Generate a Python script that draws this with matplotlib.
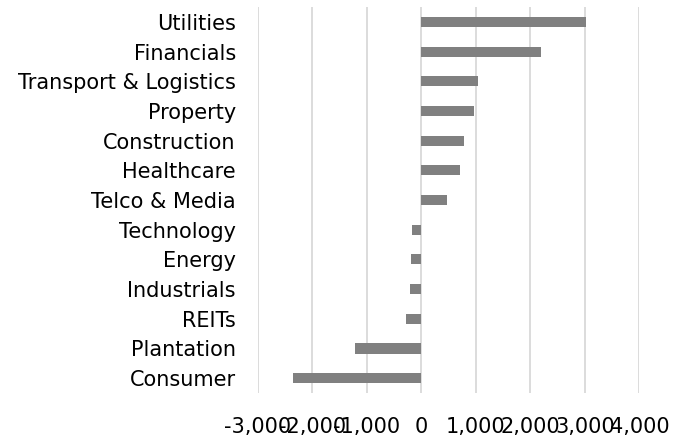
import numpy as np
import matplotlib
matplotlib.use('Agg')
import matplotlib.pyplot as plt

sectors = ['Utilities', 'Financials', 'Transport & Logistics', 'Property',
           'Construction', 'Healthcare', 'Telco & Media', 'Technology',
           'Energy', 'Industrials', 'REITs', 'Plantation', 'Consumer']
values = [3010, 2200, 1040, 955, 785, 705, 466, -165, -190, -208, -275, -1219, -2353]

x_ticks = [-3000, -2000, -1000, 0, 1000, 2000, 3000, 4000]

plt.rcParams['font.family'] = ['DejaVu Sans']

fig = plt.figure(figsize=(6.8, 4.41), dpi=100)
ax = fig.add_axes([0.3794, 0.1088, 0.9404 - 0.3794, 0.984 - 0.1088])

pos = np.arange(len(sectors))
ax.barh(pos, values, height=0.34, color='#808080', zorder=3)

ax.set_ylim(len(sectors) - 0.5, -0.5)
ax.set_xlim(-3000, 4000)
ax.set_xticks(x_ticks)
ax.set_xticklabels(['{:,}'.format(v) for v in x_ticks])
ax.set_yticks(pos)
ax.set_yticklabels(sectors)

ax.grid(axis='x', color='#d9d9d9', linewidth=1.3, zorder=0)
for s in ax.spines.values():
    s.set_visible(False)
ax.tick_params(axis='both', length=0, labelsize=15, colors='#000000')
ax.tick_params(axis='y', pad=16)
ax.tick_params(axis='x', pad=17)

fig.savefig('out.png', dpi=100)
